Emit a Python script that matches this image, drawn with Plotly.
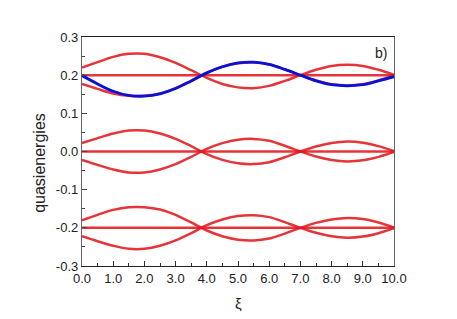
import plotly.graph_objects as go

xi = [0.0, 0.5, 1.0, 1.5, 2.0, 2.5, 3.0, 3.5, 4.0, 4.5, 5.0,
      5.5, 6.0, 6.5, 7.0, 7.5, 8.0, 8.5, 9.0, 9.5, 10.0]

# upper group (around 0.2)
top_a = [0.220, 0.234, 0.248, 0.256, 0.256, 0.247, 0.232, 0.213, 0.193, 0.177, 0.168,
         0.166, 0.172, 0.185, 0.200, 0.214, 0.224, 0.227, 0.224, 0.214, 0.201]
top_b = [0.177, 0.164, 0.152, 0.146, 0.146, 0.152, 0.166, 0.185, 0.206, 0.222, 0.231,
         0.233, 0.228, 0.215, 0.200, 0.186, 0.176, 0.173, 0.176, 0.186, 0.199]
top_flat = 0.2
blue = [0.199, 0.177, 0.158, 0.147, 0.145, 0.151, 0.165, 0.185, 0.206, 0.222, 0.232,
        0.234, 0.228, 0.215, 0.200, 0.185, 0.175, 0.172, 0.175, 0.185, 0.196]

# middle group (around 0.0)
mid_a = [0.022, 0.035, 0.047, 0.055, 0.055, 0.047, 0.033, 0.014, -0.007, -0.022, -0.031,
         -0.033, -0.028, -0.015, 0.000, 0.013, 0.022, 0.026, 0.023, 0.014, 0.001]
mid_b = [-0.022, -0.035, -0.047, -0.055, -0.055, -0.047, -0.033, -0.014, 0.007, 0.022, 0.031,
         0.033, 0.028, 0.015, 0.000, -0.013, -0.022, -0.026, -0.023, -0.014, -0.001]
mid_flat = 0.0

# lower group (around -0.2)
low_a = [-0.180, -0.166, -0.153, -0.146, -0.146, -0.152, -0.166, -0.186, -0.207, -0.222, -0.231,
         -0.233, -0.228, -0.215, -0.200, -0.187, -0.178, -0.174, -0.177, -0.186, -0.199]
low_b = [-0.222, -0.235, -0.247, -0.255, -0.255, -0.247, -0.233, -0.214, -0.193, -0.178, -0.169,
         -0.167, -0.172, -0.185, -0.200, -0.213, -0.222, -0.226, -0.223, -0.214, -0.201]
low_flat = -0.2

x_ticks = [0, 1, 2, 3, 4, 5, 6, 7, 8, 9, 10]
y_ticks = [-0.3, -0.2, -0.1, 0.0, 0.1, 0.2, 0.3]

RED = "rgba(226,24,30,0.88)"
BLUE = "#0a10d8"

fig = go.Figure()
for ys in [top_a, top_b, mid_a, mid_b, low_a, low_b]:
    fig.add_trace(go.Scatter(x=xi, y=ys, mode="lines",
                             line=dict(color=RED, width=2.5, shape="spline"),
                             showlegend=False, hoverinfo="skip"))
for lvl in [top_flat, mid_flat, low_flat]:
    fig.add_trace(go.Scatter(x=[xi[0], xi[-1]], y=[lvl, lvl], mode="lines",
                             line=dict(color=RED, width=2.5),
                             showlegend=False, hoverinfo="skip"))
fig.add_trace(go.Scatter(x=xi, y=blue, mode="lines",
                         line=dict(color=BLUE, width=2.8, shape="spline"),
                         showlegend=False, hoverinfo="skip"))

font = dict(family="Arial, Liberation Sans, sans-serif", size=13, color="#222")

fig.update_layout(
    width=457, height=319,
    margin=dict(l=74, r=71, t=29, b=61),
    paper_bgcolor="white", plot_bgcolor="white",
    font=font,
    showlegend=False,
)
fig.update_xaxes(
    range=[0, 10], tickvals=x_ticks, ticktext=[f"{v:.1f}" for v in x_ticks],
    showgrid=False, zeroline=False,
    showline=True, linecolor="#222", linewidth=1.3, mirror=True,
    ticks="inside", ticklen=5, tickcolor="#333",
    minor=dict(dtick=0.5, ticks="inside", ticklen=3, tickcolor="#333"),
)
fig.update_yaxes(
    range=[-0.3, 0.3], tickvals=y_ticks, ticktext=[f"{v:.1f}" for v in y_ticks],
    showgrid=False, zeroline=False,
    showline=True, linecolor="#666", linewidth=1.3, mirror=True,
    ticks="inside", ticklen=5, tickcolor="#444",
    minor=dict(dtick=0.05, ticks="inside", ticklen=3, tickcolor="#444"),
)
fig.add_annotation(x=-0.135, y=0.45, xref="paper", yref="paper",
                   text="quasienergies", textangle=-90, showarrow=False,
                   xanchor="center", yanchor="middle",
                   font=dict(size=16, color="#222"))
fig.add_annotation(x=0.5, y=-0.162, xref="paper", yref="paper",
                   text="ξ", showarrow=False, xanchor="center", yanchor="middle",
                   font=dict(size=15, color="#222"))
fig.add_annotation(x=0.985, y=0.975, xref="paper", yref="paper",
                   text="b)", showarrow=False, xanchor="right", yanchor="top",
                   font=dict(size=14, color="#222"))

fig.write_html("out.html")
